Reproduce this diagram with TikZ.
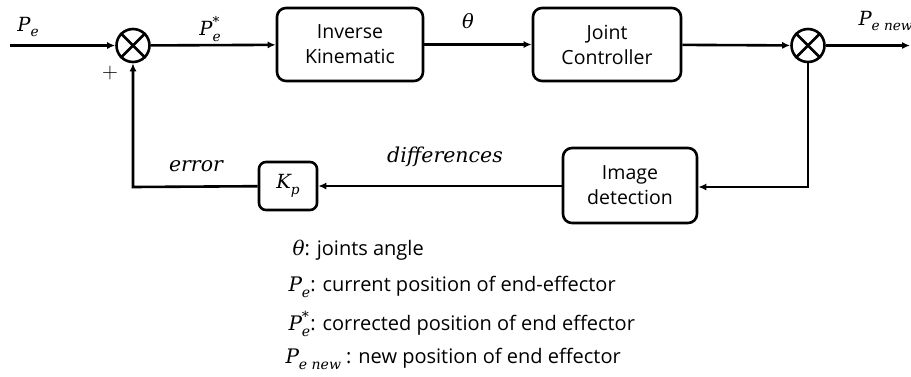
\RequirePackage{fix-cm}
\documentclass[tikz,border=0pt]{standalone}
\usepackage{fontspec}
\setmainfont{Open Sans}
\newfontfamily\mfont{DejaVu Serif}
\newcommand\mv[1]{{\mfont\itshape #1}}
\newcommand\sbs[1]{\raisebox{-0.3em}{\fontsize{0.7em}{1em}\selectfont #1}}
\newcommand\pstar{P\makebox[0pt][l]{\raisebox{0.45em}{\fontsize{0.7em}{1em}\selectfont *}}\sbs{e}}
\usetikzlibrary{arrows.meta}
\tikzset{
  blk/.style={draw, line width=2.6pt, rounded corners=9pt, align=center, font=\fontsize{19.5}{25}\selectfont, inner sep=0pt},
  sumc/.style={draw, circle, line width=2.6pt, minimum size=33pt, inner sep=0pt},
  conn/.style={line width=2.6pt, -{Latex[length=8pt,width=7pt]}},
  lbl/.style={font=\fontsize{19.5}{22}\selectfont},
  leg/.style={anchor=west, font=\fontsize{20}{24}\selectfont}
}
\begin{document}
\begin{tikzpicture}[x=1pt,y=-1pt]
\useasboundingbox (0,0) rectangle (911,376);
% blocks
\node[blk, minimum width=146pt, minimum height=73pt] (ik) at (350,44.5) {Inverse\\Kinematic};
\node[blk, minimum width=148pt, minimum height=73pt] (jc) at (607,44.5) {Joint\\Controller};
\node[blk, minimum width=134pt, minimum height=75pt] (img) at (630,185.5) {Image\\detection};
\node[blk, minimum width=58pt, minimum height=48pt, rounded corners=7pt] (kp) at (288,186) {\fontsize{19.5}{22}\selectfont\mv{K\sbs{p}}};
% summing junctions
\node[sumc] (s1) at (133,45.5) {};
\node[sumc] (s2) at (808,45.5) {};
\foreach \s in {s1,s2}{
  \draw[line width=2.6pt] (\s.north west) -- (\s.south east);
  \draw[line width=2.6pt] (\s.north east) -- (\s.south west);
}
\coordinate (in) at (10,45.5);
\coordinate (out) at (910,45.5);
\coordinate (fbr) at (808,187);
\coordinate (fbl) at (133,187);
% connectors
\draw[conn] (in) -- (s1);
\draw[conn] (s1) -- (ik);
\draw[conn] (ik) -- (jc);
\draw[conn] (jc) -- (s2);
\draw[conn] (s2) -- (out);
\draw[conn] (s2) -- (fbr) -- (img.east |- fbr);
\draw[conn] (img.west |- kp) -- (kp);
\draw[conn] (kp) -- (fbl) -- (s1);
% labels
\node[lbl] (lpe) at (28,27) {\mv{P\sbs{e}}};
\node[lbl] (lpes) at (210,29) {\mv{\pstar}};
\node[lbl] (lth) at (468,21) {\mv{θ}};
\node[lbl, anchor=west] (lpn) at (855,21) {\mv{P\sbs{e new}}};
\node[lbl, font=\fontsize{22}{24}\selectfont] (plus) at (110,73) {$+$};
\node[lbl, font=\fontsize{20.5}{24}\selectfont] (lerr) at (196,166) {\mv{error}};
\node[lbl, font=\fontsize{20.5}{24}\selectfont] (ldiff) at (445,157) {\mv{differences}};
% legend
\node[leg] (g1) at (289,250) {\mv{θ}: joints angle};
\node[leg] (g2) at (285,287) {\mv{P\sbs{e}}: current position of end-effector};
\node[leg] (g3) at (285,324) {\mv{\pstar}: corrected position of end effector};
\node[leg] (g4) at (282,359) {\mv{P\sbs{e new}} : new position of end effector};
\end{tikzpicture}
\end{document}
